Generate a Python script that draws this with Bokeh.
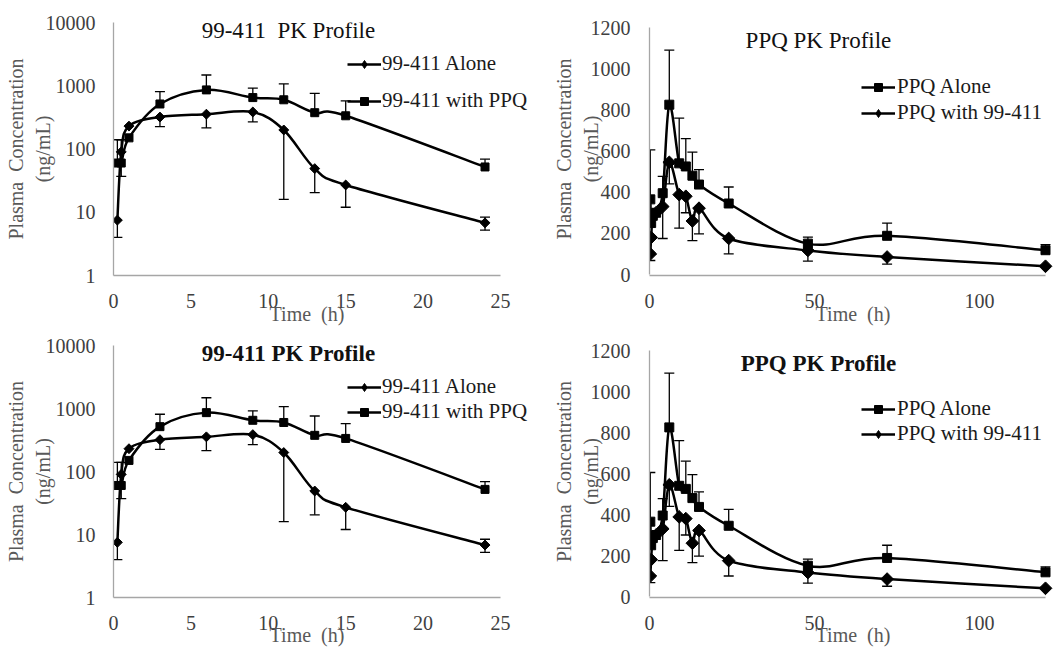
import numpy as np
from bokeh.plotting import figure
from bokeh.models import (Range1d, Whisker, TeeHead, Label, Legend, LegendItem,
                          ColumnDataSource, FixedTicker, PrintfTickFormatter)
from bokeh.layouts import column, row
from bokeh.embed import file_html
from bokeh.resources import INLINE

# ---------------- data: 99-411 PK profile (log scale) ----------------
t_99 = [0.25, 0.5, 1, 3, 6, 9, 11, 13, 15, 24]
c99_alone = [7.5, 90, 230, 320, 355, 385, 200, 49, 27, 6.8]
c99_alone_lo = [4, 37, None, 225, 215, 268, 16, 20.5, 12, 5.2]   # lower error-bar ends
c99_alone_hi = [None, None, None, None, None, None, None, None, None, 8.4]
c99_ppq = [60, 60, 150, 515, 860, 650, 600, 375, 335, 52]
c99_ppq_hi = [140, 140, None, 810, 1480, 920, 1070, 760, 575, 69]  # upper error-bar ends

# ---------------- data: PPQ PK profile (linear scale) ----------------
t_ppq = [0.25, 0.5, 1, 2, 4, 6, 9, 11, 13, 15, 24, 48, 72, 120]
ppq_alone = [365, 250, 285, 300, 395, 825, 540, 525, 480, 437, 345, 150, 188, 118]
ppq_alone_hi = [605, None, None, None, 477, 1090, 760, 660, 595, 510, 425, 182, 250, 145]
ppq_99 = [100, 180, 290, 300, 330, 545, 388, 380, 260, 322, 175, 117, 85, 40]
ppq_99_lo = [68, None, None, None, 175, 440, 225, 300, 165, 197, 100, 65, 50, None]

x_ticks_99 = [0, 5, 10, 15, 20, 25]
y_ticks_99 = [1, 10, 100, 1000, 10000]
x_ticks_ppq = [0, 50, 100]
y_ticks_ppq = [0, 200, 400, 600, 800, 1000, 1200]

FONT = "'Liberation Serif', 'Times New Roman', Tinos, 'DejaVu Serif', serif"
NB = "\u00a0"


def smooth_source(x, y, logy):
    X = np.asarray(x, float)
    Y = np.log10(np.asarray(y, float)) if logy else np.asarray(y, float)
    n = len(X)
    d = {k: [] for k in ("x0", "y0", "x1", "y1", "cx0", "cy0", "cx1", "cy1")}
    for i in range(n - 1):
        a = max(i - 1, 0)
        b = min(i + 2, n - 1)
        d["x0"].append(X[i]); d["y0"].append(Y[i])
        d["x1"].append(X[i + 1]); d["y1"].append(Y[i + 1])
        d["cx0"].append(X[i] + (X[i + 1] - X[a]) / 6)
        d["cy0"].append(Y[i] + (Y[i + 1] - Y[a]) / 6)
        d["cx1"].append(X[i + 1] - (X[b] - X[i]) / 6)
        d["cy1"].append(Y[i + 1] - (Y[b] - Y[i]) / 6)
    if logy:
        for k in ("y0", "y1", "cy0", "cy1"):
            d[k] = list(10 ** np.array(d[k]))
    return ColumnDataSource(d)


def err_source(t, c, e):
    idx = [i for i, v in enumerate(e) if v is not None]
    return ColumnDataSource(dict(t=[t[i] for i in idx], c=[c[i] for i in idx],
                                 e=[e[i] for i in idx]))


def style_axes(p, xlabel, xlab_standoff, ylab_standoff, xmaj_standoff, ymaj_standoff):
    for ax in (p.xaxis[0], p.yaxis[0]):
        ax.axis_line_color = "#a6a6a6"
        ax.axis_line_width = 1.3
        ax.major_tick_line_color = None
        ax.minor_tick_line_color = None
        ax.major_tick_out = 0
        ax.major_tick_in = 0
        ax.minor_tick_out = 0
        ax.minor_tick_in = 0
        ax.major_label_text_font = FONT
        ax.major_label_text_font_size = "20px"
        ax.major_label_text_color = "#404040"
        ax.axis_label_text_font = FONT
        ax.axis_label_text_font_size = "20px"
        ax.axis_label_text_font_style = "normal"
        ax.axis_label_text_color = "#595959"
    p.xaxis.axis_label = xlabel
    p.yaxis.axis_label = "Plasma" + NB + " Concentration\n(ng/mL)"
    p.xaxis.axis_label_standoff = xlab_standoff
    p.yaxis.axis_label_standoff = ylab_standoff
    p.xaxis.major_label_standoff = xmaj_standoff
    p.yaxis.major_label_standoff = ymaj_standoff
    p.grid.visible = False
    p.outline_line_color = None


def whisk(p, src, upper, lower, up_head, low_head):
    w = Whisker(source=src, base="t", upper=upper, lower=lower, dimension="height",
                line_color="black", line_width=1.3,
                upper_head=TeeHead(size=10, line_width=1.3, line_color="black") if up_head else None,
                lower_head=TeeHead(size=10, line_width=1.3, line_color="black") if low_head else None)
    p.add_layout(w)


def make_legend(items, loc, spacing, standoff):
    return Legend(items=items, location=loc, glyph_width=34, glyph_height=20,
                  label_height=20, spacing=spacing, padding=0, margin=0,
                  border_line_color=None, background_fill_alpha=0,
                  label_text_font=FONT, label_text_font_size="21px",
                  label_standoff=standoff, label_text_color="#1a1a1a")


def panel_99(height, top, bottom, title_text, bold, leg_loc, leg_spacing, xmaj, xlab):
    p = figure(width=530, height=height, output_backend="svg", toolbar_location=None,
               y_axis_type="log", x_range=Range1d(0, 25 * 417 / 387),
               y_range=Range1d(1, 10000),
               min_border_left=113, min_border_right=0, min_border_top=top,
               min_border_bottom=bottom, background_fill_color="white",
               border_fill_color="white")
    p.xaxis.ticker = FixedTicker(ticks=x_ticks_99)
    p.xaxis.bounds = (0, 25)
    p.yaxis.ticker = FixedTicker(ticks=y_ticks_99)
    p.yaxis.formatter = PrintfTickFormatter(format="%d")
    style_axes(p, "Time" + NB + " (h)" + NB * 6, xlab, -11, xmaj, 18)

    whisk(p, err_source(t_99, c99_ppq, c99_ppq_hi), "e", "c", True, False)
    whisk(p, err_source(t_99, c99_alone, c99_alone_lo), "c", "e", False, True)
    whisk(p, err_source(t_99, c99_alone, c99_alone_hi), "e", "c", True, False)

    b_alone = p.bezier(x0="x0", y0="y0", x1="x1", y1="y1", cx0="cx0", cy0="cy0",
                       cx1="cx1", cy1="cy1", source=smooth_source(t_99, c99_alone, True),
                       line_color="black", line_width=2.5)
    b_ppq = p.bezier(x0="x0", y0="y0", x1="x1", y1="y1", cx0="cx0", cy0="cy0",
                     cx1="cx1", cy1="cy1", source=smooth_source(t_99, c99_ppq, True),
                     line_color="black", line_width=2.5)
    p.scatter(t_99, c99_alone, marker="square", angle=np.pi / 4, size=7, color="black")
    s_ppq = p.scatter(t_99, c99_ppq, marker="square", size=8, color="black")
    # legend key only: a diamond symbol (no data point is drawn)
    leg_diamond = p.scatter(x=[np.nan], y=[np.nan], marker="diamond", size=10, color="black")

    p.add_layout(Label(x=11.3, y=10 ** 3.87, text=title_text, text_align="center",
                       text_baseline="middle", text_font=FONT, text_font_size="23px",
                       text_font_style="bold" if bold else "normal", text_color="#111111"))
    p.add_layout(make_legend(
        [LegendItem(label="99-411 Alone", renderers=[b_alone, leg_diamond]),
         LegendItem(label="99-411 with PPQ", renderers=[b_ppq, s_ppq])],
        leg_loc, leg_spacing, 1))
    return p


def panel_ppq(height, top, bottom, y_zero_px, y_top_px, title_text, bold, leg_loc,
              leg_spacing, xmaj, xlab):
    # frame shares top/bottom with its row neighbour; the 0..1200 scale sits inside it
    frame_h = height - top - bottom
    ppu = (frame_h - y_zero_px - y_top_px) / 1200.0
    p = figure(width=526, height=height, output_backend="svg", toolbar_location=None,
               x_range=Range1d(0, 407 / 3.3),
               y_range=Range1d(-y_zero_px / ppu, 1200 + y_top_px / ppu),
               min_border_left=119, min_border_right=0, min_border_top=top,
               min_border_bottom=bottom, background_fill_color="white",
               border_fill_color="white")
    p.xaxis.ticker = FixedTicker(ticks=x_ticks_ppq)
    p.yaxis.ticker = FixedTicker(ticks=y_ticks_ppq)
    p.xaxis.bounds = (0, 120)
    p.yaxis.bounds = (0, 1200)
    style_axes(p, "Time" + NB + " (h)", xlab, -14, xmaj, 19)

    whisk(p, err_source(t_ppq, ppq_alone, ppq_alone_hi), "e", "c", True, False)
    whisk(p, err_source(t_ppq, ppq_99, ppq_99_lo), "c", "e", False, True)

    b_alone = p.bezier(x0="x0", y0="y0", x1="x1", y1="y1", cx0="cx0", cy0="cy0",
                       cx1="cx1", cy1="cy1", source=smooth_source(t_ppq, ppq_alone, False),
                       line_color="black", line_width=2.5)
    b_99 = p.bezier(x0="x0", y0="y0", x1="x1", y1="y1", cx0="cx0", cy0="cy0",
                    cx1="cx1", cy1="cy1", source=smooth_source(t_ppq, ppq_99, False),
                    line_color="black", line_width=2.5)
    s_alone = p.scatter(t_ppq, ppq_alone, marker="square", size=9, color="black")
    p.scatter(t_ppq, ppq_99, marker="square", angle=np.pi / 4, size=9, color="black")
    leg_diamond = p.scatter(x=[np.nan], y=[np.nan], marker="diamond", size=12, color="black")

    p.add_layout(Label(x=51.2, y=1137, text=title_text, text_align="center",
                       text_baseline="middle", text_font=FONT, text_font_size="23px",
                       text_font_style="bold" if bold else "normal", text_color="#111111"))
    p.add_layout(make_legend(
        [LegendItem(label="PPQ Alone", renderers=[b_alone, s_alone]),
         LegendItem(label="PPQ with 99-411", renderers=[b_99, leg_diamond])],
        leg_loc, leg_spacing, 2))
    return p


p1 = panel_99(330, 22, 55, "99-411" + NB + " PK Profile", False, (234, 162), 12, 18, -8)
p2 = panel_ppq(330, 22, 55, 1, 5, "PPQ PK Profile", False, (212, 150), 1, 18, -8)
p3 = panel_99(318, 15, 51, "99-411 PK Profile", True, (234, 173), 0, 18, -9)
p4 = panel_ppq(318, 15, 51, 1, 5, "PPQ PK Profile", True, (212, 151), 0, 18, -9)

layout = column(row(p1, p2, spacing=0), row(p3, p4, spacing=0), spacing=0)
open("out.html", "w").write(file_html(layout, INLINE))
